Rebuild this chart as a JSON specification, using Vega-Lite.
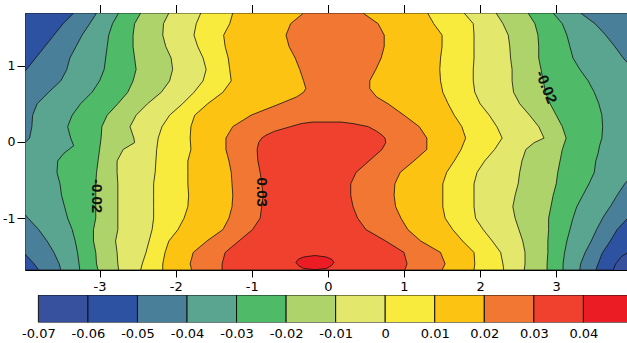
{
  "$schema": "https://vega.github.io/schema/vega-lite/v6.json",
  "padding": {"left": 2, "top": 4, "right": 0, "bottom": 0},
  "background": "white",
  "spacing": 1,
  "datasets": {
    "contours": [
      {"level": -0.06, "y": 1.69, "xl": -3.98, "xr": 3.98},
      {"level": -0.06, "y": -1.43, "xl": -3.98, "xr": 3.98},
      {"level": -0.06, "y": -1.5, "xl": -3.98, "xr": 3.86},
      {"level": -0.06, "y": -1.6, "xl": -3.98, "xr": 3.78},
      {"level": -0.06, "y": -1.68, "xl": -3.98, "xr": 3.75},

      {"level": -0.05, "y": 1.69, "xl": -3.34, "xr": 3.98},
      {"level": -0.05, "y": 1.55, "xl": -3.48, "xr": 3.98},
      {"level": -0.05, "y": 1.4, "xl": -3.6, "xr": 3.98},
      {"level": -0.05, "y": 1.25, "xl": -3.72, "xr": 3.98},
      {"level": -0.05, "y": 1.1, "xl": -3.84, "xr": 3.98},
      {"level": -0.05, "y": 0.95, "xl": -3.96, "xr": 3.98},
      {"level": -0.05, "y": 0.93, "xl": -3.98, "xr": 3.98},
      {"level": -0.05, "y": -0.97, "xl": -3.98, "xr": 3.98},
      {"level": -0.05, "y": -1.0, "xl": -3.98, "xr": 3.94},
      {"level": -0.05, "y": -1.15, "xl": -3.98, "xr": 3.8},
      {"level": -0.05, "y": -1.3, "xl": -3.98, "xr": 3.71},
      {"level": -0.05, "y": -1.45, "xl": -3.98, "xr": 3.61},
      {"level": -0.05, "y": -1.47, "xl": -3.98, "xr": 3.6},
      {"level": -0.05, "y": -1.6, "xl": -3.86, "xr": 3.55},
      {"level": -0.05, "y": -1.68, "xl": -3.8, "xr": 3.52},

      {"level": -0.04, "y": 1.69, "xl": -3.04, "xr": 3.32},
      {"level": -0.04, "y": 1.55, "xl": -3.13, "xr": 3.51},
      {"level": -0.04, "y": 1.4, "xl": -3.23, "xr": 3.65},
      {"level": -0.04, "y": 1.25, "xl": -3.31, "xr": 3.77},
      {"level": -0.04, "y": 1.1, "xl": -3.39, "xr": 3.88},
      {"level": -0.04, "y": 0.99, "xl": -3.42, "xr": 3.98},
      {"level": -0.04, "y": 0.95, "xl": -3.43, "xr": 3.98},
      {"level": -0.04, "y": 0.8, "xl": -3.51, "xr": 3.98},
      {"level": -0.04, "y": 0.65, "xl": -3.67, "xr": 3.98},
      {"level": -0.04, "y": 0.5, "xl": -3.82, "xr": 3.98},
      {"level": -0.04, "y": 0.35, "xl": -3.88, "xr": 3.98},
      {"level": -0.04, "y": 0.2, "xl": -3.89, "xr": 3.98},
      {"level": -0.04, "y": 0.05, "xl": -3.92, "xr": 3.98},
      {"level": -0.04, "y": -0.01, "xl": -3.98, "xr": 3.98},
      {"level": -0.04, "y": -0.46, "xl": -3.98, "xr": 3.98},
      {"level": -0.04, "y": -0.55, "xl": -3.98, "xr": 3.9},
      {"level": -0.04, "y": -0.7, "xl": -3.98, "xr": 3.8},
      {"level": -0.04, "y": -0.85, "xl": -3.98, "xr": 3.71},
      {"level": -0.04, "y": -0.95, "xl": -3.98, "xr": 3.64},
      {"level": -0.04, "y": -1.0, "xl": -3.94, "xr": 3.61},
      {"level": -0.04, "y": -1.15, "xl": -3.8, "xr": 3.53},
      {"level": -0.04, "y": -1.3, "xl": -3.69, "xr": 3.46},
      {"level": -0.04, "y": -1.45, "xl": -3.6, "xr": 3.38},
      {"level": -0.04, "y": -1.6, "xl": -3.53, "xr": 3.32},
      {"level": -0.04, "y": -1.68, "xl": -3.51, "xr": 3.31},

      {"level": -0.03, "y": 1.69, "xl": -2.75, "xr": 2.96},
      {"level": -0.03, "y": 1.55, "xl": -2.83, "xr": 3.08},
      {"level": -0.03, "y": 1.4, "xl": -2.88, "xr": 3.14},
      {"level": -0.03, "y": 1.25, "xl": -2.9, "xr": 3.18},
      {"level": -0.03, "y": 1.1, "xl": -2.92, "xr": 3.22},
      {"level": -0.03, "y": 0.95, "xl": -2.94, "xr": 3.31},
      {"level": -0.03, "y": 0.8, "xl": -3.0, "xr": 3.42},
      {"level": -0.03, "y": 0.65, "xl": -3.1, "xr": 3.5},
      {"level": -0.03, "y": 0.5, "xl": -3.25, "xr": 3.56},
      {"level": -0.03, "y": 0.35, "xl": -3.36, "xr": 3.6},
      {"level": -0.03, "y": 0.2, "xl": -3.42, "xr": 3.61},
      {"level": -0.03, "y": 0.05, "xl": -3.38, "xr": 3.6},
      {"level": -0.03, "y": -0.05, "xl": -3.34, "xr": 3.57},
      {"level": -0.03, "y": -0.15, "xl": -3.47, "xr": 3.55},
      {"level": -0.03, "y": -0.25, "xl": -3.55, "xr": 3.52},
      {"level": -0.03, "y": -0.4, "xl": -3.56, "xr": 3.5},
      {"level": -0.03, "y": -0.55, "xl": -3.52, "xr": 3.43},
      {"level": -0.03, "y": -0.7, "xl": -3.5, "xr": 3.35},
      {"level": -0.03, "y": -0.85, "xl": -3.46, "xr": 3.27},
      {"level": -0.03, "y": -1.0, "xl": -3.42, "xr": 3.22},
      {"level": -0.03, "y": -1.15, "xl": -3.36, "xr": 3.18},
      {"level": -0.03, "y": -1.3, "xl": -3.32, "xr": 3.14},
      {"level": -0.03, "y": -1.45, "xl": -3.29, "xr": 3.11},
      {"level": -0.03, "y": -1.6, "xl": -3.27, "xr": 3.09},
      {"level": -0.03, "y": -1.68, "xl": -3.26, "xr": 3.09},

      {"level": -0.02, "y": 1.69, "xl": -2.46, "xr": 2.63},
      {"level": -0.02, "y": 1.55, "xl": -2.54, "xr": 2.72},
      {"level": -0.02, "y": 1.4, "xl": -2.56, "xr": 2.76},
      {"level": -0.02, "y": 1.25, "xl": -2.56, "xr": 2.77},
      {"level": -0.02, "y": 1.1, "xl": -2.54, "xr": 2.77},
      {"level": -0.02, "y": 0.95, "xl": -2.52, "xr": 2.8},
      {"level": -0.02, "y": 0.8, "xl": -2.56, "xr": 2.83},
      {"level": -0.02, "y": 0.65, "xl": -2.63, "xr": 2.86},
      {"level": -0.02, "y": 0.5, "xl": -2.76, "xr": 2.92},
      {"level": -0.02, "y": 0.35, "xl": -2.9, "xr": 3.0},
      {"level": -0.02, "y": 0.2, "xl": -2.97, "xr": 3.08},
      {"level": -0.02, "y": 0.05, "xl": -2.98, "xr": 3.13},
      {"level": -0.02, "y": -0.1, "xl": -3.0, "xr": 3.08},
      {"level": -0.02, "y": -0.25, "xl": -3.02, "xr": 3.05},
      {"level": -0.02, "y": -0.4, "xl": -3.04, "xr": 3.02},
      {"level": -0.02, "y": -0.55, "xl": -3.05, "xr": 3.0},
      {"level": -0.02, "y": -0.7, "xl": -3.05, "xr": 2.96},
      {"level": -0.02, "y": -0.85, "xl": -3.05, "xr": 2.93},
      {"level": -0.02, "y": -1.0, "xl": -3.05, "xr": 2.9},
      {"level": -0.02, "y": -1.15, "xl": -3.08, "xr": 2.9},
      {"level": -0.02, "y": -1.3, "xl": -3.08, "xr": 2.89},
      {"level": -0.02, "y": -1.45, "xl": -3.05, "xr": 2.89},
      {"level": -0.02, "y": -1.6, "xl": -3.04, "xr": 2.88},
      {"level": -0.02, "y": -1.68, "xl": -3.02, "xr": 2.88},

      {"level": -0.01, "y": 1.69, "xl": -2.09, "xr": 2.21},
      {"level": -0.01, "y": 1.55, "xl": -2.16, "xr": 2.3},
      {"level": -0.01, "y": 1.4, "xl": -2.17, "xr": 2.37},
      {"level": -0.01, "y": 1.25, "xl": -2.13, "xr": 2.39},
      {"level": -0.01, "y": 1.1, "xl": -2.06, "xr": 2.4},
      {"level": -0.01, "y": 0.95, "xl": -2.04, "xr": 2.42},
      {"level": -0.01, "y": 0.8, "xl": -2.08, "xr": 2.42},
      {"level": -0.01, "y": 0.65, "xl": -2.19, "xr": 2.44},
      {"level": -0.01, "y": 0.5, "xl": -2.37, "xr": 2.52},
      {"level": -0.01, "y": 0.35, "xl": -2.52, "xr": 2.65},
      {"level": -0.01, "y": 0.2, "xl": -2.6, "xr": 2.77},
      {"level": -0.01, "y": 0.05, "xl": -2.55, "xr": 2.84},
      {"level": -0.01, "y": -0.01, "xl": -2.54, "xr": 2.71},
      {"level": -0.01, "y": -0.1, "xl": -2.69, "xr": 2.6},
      {"level": -0.01, "y": -0.25, "xl": -2.77, "xr": 2.55},
      {"level": -0.01, "y": -0.4, "xl": -2.77, "xr": 2.52},
      {"level": -0.01, "y": -0.55, "xl": -2.76, "xr": 2.5},
      {"level": -0.01, "y": -0.7, "xl": -2.76, "xr": 2.46},
      {"level": -0.01, "y": -0.85, "xl": -2.76, "xr": 2.43},
      {"level": -0.01, "y": -1.0, "xl": -2.76, "xr": 2.46},
      {"level": -0.01, "y": -1.15, "xl": -2.76, "xr": 2.51},
      {"level": -0.01, "y": -1.3, "xl": -2.79, "xr": 2.56},
      {"level": -0.01, "y": -1.45, "xl": -2.77, "xr": 2.59},
      {"level": -0.01, "y": -1.6, "xl": -2.76, "xr": 2.59},
      {"level": -0.01, "y": -1.68, "xl": -2.75, "xr": 2.58},

      {"level": 0, "y": 1.69, "xl": -1.67, "xr": 1.79},
      {"level": 0, "y": 1.55, "xl": -1.73, "xr": 1.91},
      {"level": 0, "y": 1.4, "xl": -1.76, "xr": 1.92},
      {"level": 0, "y": 1.25, "xl": -1.71, "xr": 1.92},
      {"level": 0, "y": 1.1, "xl": -1.64, "xr": 1.92},
      {"level": 0, "y": 0.95, "xl": -1.6, "xr": 1.91},
      {"level": 0, "y": 0.8, "xl": -1.64, "xr": 1.91},
      {"level": 0, "y": 0.65, "xl": -1.76, "xr": 1.93},
      {"level": 0, "y": 0.5, "xl": -1.91, "xr": 2.0},
      {"level": 0, "y": 0.35, "xl": -2.08, "xr": 2.12},
      {"level": 0, "y": 0.2, "xl": -2.18, "xr": 2.22},
      {"level": 0, "y": 0.05, "xl": -2.23, "xr": 2.29},
      {"level": 0, "y": -0.1, "xl": -2.25, "xr": 2.19},
      {"level": 0, "y": -0.25, "xl": -2.26, "xr": 2.06},
      {"level": 0, "y": -0.4, "xl": -2.27, "xr": 1.96},
      {"level": 0, "y": -0.55, "xl": -2.29, "xr": 1.92},
      {"level": 0, "y": -0.7, "xl": -2.29, "xr": 1.92},
      {"level": 0, "y": -0.85, "xl": -2.29, "xr": 1.92},
      {"level": 0, "y": -1.0, "xl": -2.29, "xr": 1.94},
      {"level": 0, "y": -1.15, "xl": -2.31, "xr": 2.04},
      {"level": 0, "y": -1.3, "xl": -2.35, "xr": 2.16},
      {"level": 0, "y": -1.45, "xl": -2.39, "xr": 2.27},
      {"level": 0, "y": -1.6, "xl": -2.44, "xr": 2.3},
      {"level": 0, "y": -1.68, "xl": -2.46, "xr": 2.31},

      {"level": 0.01, "y": 1.69, "xl": -1.25, "xr": 1.31},
      {"level": 0.01, "y": 1.55, "xl": -1.29, "xr": 1.39},
      {"level": 0.01, "y": 1.4, "xl": -1.37, "xr": 1.5},
      {"level": 0.01, "y": 1.25, "xl": -1.35, "xr": 1.5},
      {"level": 0.01, "y": 1.1, "xl": -1.31, "xr": 1.48},
      {"level": 0.01, "y": 0.95, "xl": -1.29, "xr": 1.47},
      {"level": 0.01, "y": 0.8, "xl": -1.27, "xr": 1.48},
      {"level": 0.01, "y": 0.65, "xl": -1.38, "xr": 1.51},
      {"level": 0.01, "y": 0.5, "xl": -1.58, "xr": 1.58},
      {"level": 0.01, "y": 0.35, "xl": -1.75, "xr": 1.66},
      {"level": 0.01, "y": 0.2, "xl": -1.8, "xr": 1.76},
      {"level": 0.01, "y": 0.05, "xl": -1.81, "xr": 1.81},
      {"level": 0.01, "y": -0.1, "xl": -1.8, "xr": 1.75},
      {"level": 0.01, "y": -0.25, "xl": -1.84, "xr": 1.66},
      {"level": 0.01, "y": -0.4, "xl": -1.84, "xr": 1.56},
      {"level": 0.01, "y": -0.55, "xl": -1.84, "xr": 1.51},
      {"level": 0.01, "y": -0.7, "xl": -1.83, "xr": 1.51},
      {"level": 0.01, "y": -0.85, "xl": -1.84, "xr": 1.51},
      {"level": 0.01, "y": -1.0, "xl": -1.89, "xr": 1.54},
      {"level": 0.01, "y": -1.15, "xl": -1.97, "xr": 1.64},
      {"level": 0.01, "y": -1.3, "xl": -2.09, "xr": 1.77},
      {"level": 0.01, "y": -1.45, "xl": -2.14, "xr": 1.92},
      {"level": 0.01, "y": -1.6, "xl": -2.17, "xr": 1.93},
      {"level": 0.01, "y": -1.68, "xl": -2.17, "xr": 1.92},

      {"level": 0.02, "y": 1.69, "xl": -0.32, "xr": 0.46},
      {"level": 0.02, "y": 1.55, "xl": -0.49, "xr": 0.66},
      {"level": 0.02, "y": 1.4, "xl": -0.55, "xr": 0.74},
      {"level": 0.02, "y": 1.25, "xl": -0.51, "xr": 0.74},
      {"level": 0.02, "y": 1.1, "xl": -0.43, "xr": 0.7},
      {"level": 0.02, "y": 0.95, "xl": -0.37, "xr": 0.63},
      {"level": 0.02, "y": 0.8, "xl": -0.32, "xr": 0.55},
      {"level": 0.02, "y": 0.7, "xl": -0.29, "xr": 0.55},
      {"level": 0.02, "y": 0.65, "xl": -0.32, "xr": 0.59},
      {"level": 0.02, "y": 0.59, "xl": -0.41, "xr": 0.64},
      {"level": 0.02, "y": 0.5, "xl": -0.63, "xr": 0.79},
      {"level": 0.02, "y": 0.35, "xl": -1.01, "xr": 1.0},
      {"level": 0.02, "y": 0.2, "xl": -1.25, "xr": 1.2},
      {"level": 0.02, "y": 0.05, "xl": -1.34, "xr": 1.3},
      {"level": 0.02, "y": -0.1, "xl": -1.34, "xr": 1.3},
      {"level": 0.02, "y": -0.25, "xl": -1.3, "xr": 1.13},
      {"level": 0.02, "y": -0.4, "xl": -1.27, "xr": 0.95},
      {"level": 0.02, "y": -0.55, "xl": -1.26, "xr": 0.88},
      {"level": 0.02, "y": -0.7, "xl": -1.25, "xr": 0.87},
      {"level": 0.02, "y": -0.85, "xl": -1.26, "xr": 0.89},
      {"level": 0.02, "y": -1.0, "xl": -1.3, "xr": 0.96},
      {"level": 0.02, "y": -1.15, "xl": -1.38, "xr": 1.05},
      {"level": 0.02, "y": -1.3, "xl": -1.59, "xr": 1.22},
      {"level": 0.02, "y": -1.45, "xl": -1.77, "xr": 1.48},
      {"level": 0.02, "y": -1.6, "xl": -1.81, "xr": 1.54},
      {"level": 0.02, "y": -1.68, "xl": -1.79, "xr": 1.5},

      {"level": 0.03, "y": 0.26, "xl": -0.2, "xr": 0.17},
      {"level": 0.03, "y": 0.24, "xl": -0.35, "xr": 0.33},
      {"level": 0.03, "y": 0.2, "xl": -0.49, "xr": 0.53},
      {"level": 0.03, "y": 0.14, "xl": -0.7, "xr": 0.64},
      {"level": 0.03, "y": 0.09, "xl": -0.81, "xr": 0.71},
      {"level": 0.03, "y": 0.05, "xl": -0.87, "xr": 0.75},
      {"level": 0.03, "y": -0.01, "xl": -0.91, "xr": 0.76},
      {"level": 0.03, "y": -0.1, "xl": -0.93, "xr": 0.71},
      {"level": 0.03, "y": -0.25, "xl": -0.92, "xr": 0.54},
      {"level": 0.03, "y": -0.4, "xl": -0.89, "xr": 0.37},
      {"level": 0.03, "y": -0.55, "xl": -0.87, "xr": 0.3},
      {"level": 0.03, "y": -0.7, "xl": -0.85, "xr": 0.3},
      {"level": 0.03, "y": -0.85, "xl": -0.87, "xr": 0.33},
      {"level": 0.03, "y": -1.0, "xl": -0.89, "xr": 0.39},
      {"level": 0.03, "y": -1.15, "xl": -0.99, "xr": 0.5},
      {"level": 0.03, "y": -1.3, "xl": -1.17, "xr": 0.76},
      {"level": 0.03, "y": -1.45, "xl": -1.35, "xr": 1.0},
      {"level": 0.03, "y": -1.6, "xl": -1.39, "xr": 1.04},
      {"level": 0.03, "y": -1.68, "xl": -1.39, "xr": 1.01},

      {"level": 0.04, "y": -1.49, "xl": -0.17, "xr": -0.17},
      {"level": 0.04, "y": -1.51, "xl": -0.32, "xr": -0.02},
      {"level": 0.04, "y": -1.54, "xl": -0.39, "xr": 0.05},
      {"level": 0.04, "y": -1.58, "xl": -0.42, "xr": 0.08},
      {"level": 0.04, "y": -1.62, "xl": -0.39, "xr": 0.05},
      {"level": 0.04, "y": -1.66, "xl": -0.32, "xr": -0.02},
      {"level": 0.04, "y": -1.675, "xl": -0.17, "xr": -0.17}
    ],
    "bar": [
      {"level": -0.07, "hi": -0.06},
      {"level": -0.06, "hi": -0.05},
      {"level": -0.05, "hi": -0.04},
      {"level": -0.04, "hi": -0.03},
      {"level": -0.03, "hi": -0.02},
      {"level": -0.02, "hi": -0.01},
      {"level": -0.01, "hi": 0},
      {"level": 0, "hi": 0.01},
      {"level": 0.01, "hi": 0.02},
      {"level": 0.02, "hi": 0.03},
      {"level": 0.03, "hi": 0.04},
      {"level": 0.04, "hi": 0.05}
    ]
  },
  "vconcat": [
    {
      "width": 602,
      "height": 257,
      "view": {"fill": "#38519F", "stroke": null},
      "layer": [
        {
          "data": {"name": "contours"},
          "mark": {"type": "area", "orient": "horizontal", "stroke": "#111111", "strokeWidth": 0.8, "clip": true, "interpolate": "linear"},
          "encoding": {
            "y": {
              "field": "y", "type": "quantitative",
              "scale": {"domain": [-1.68, 1.69], "nice": false, "zero": false},
              "axis": {"orient": "left", "values": [-1, 0, 1], "title": null, "grid": false, "tickSize": 8, "labelPadding": 2, "domain": true,
                "labelExpr": "datum.value < 0 ? '-' + format(-datum.value, 'd') : format(datum.value, 'd')"}
            },
            "x": {
              "field": "xl", "type": "quantitative", "stack": null,
              "scale": {"domain": [-3.98, 3.93], "nice": false, "zero": false},
              "axis": {"orient": "bottom", "values": [-3, -2, -1, 0, 1, 2, 3], "title": null, "grid": false, "tickSize": 7, "labelPadding": 3.5, "labelFontSize": 13, "domain": true, "labelFlush": false,
                "labelExpr": "datum.value < 0 ? '-' + format(-datum.value, 'd') : format(datum.value, 'd')"}
            },
            "x2": {"field": "xr"},
            "color": {
              "field": "level", "type": "ordinal", "legend": null,
              "scale": {
                "domain": [-0.07, -0.06, -0.05, -0.04, -0.03, -0.02, -0.01, 0, 0.01, 0.02, 0.03, 0.04],
                "range": ["#38519F", "#2E52A2", "#4A7F9A", "#5AA590", "#4FBA68", "#AED36A", "#E3E86C", "#F9EB3D", "#FDC313", "#F27733", "#EF412D", "#EC1C24"]
              }
            }
          }
        },
        {
          "data": {"values": [
            {"label": "-0.02", "x": -3.03, "y": -0.71},
            {"label": "0.03", "x": -0.87, "y": -0.66}
          ]},
          "mark": {"type": "text", "angle": 90, "font": "Liberation Sans", "fontWeight": "bold", "fontSize": 15, "color": "#111111", "align": "center", "baseline": "middle"},
          "encoding": {
            "x": {"field": "x", "type": "quantitative",
              "axis": {"orient": "top", "values": [-3, -2, -1, 0, 1, 2, 3], "labels": false, "title": null, "grid": false, "tickSize": 8.5, "domain": true}},
            "y": {"field": "y", "type": "quantitative", "axis": null},
            "text": {"field": "label"}
          }
        },
        {
          "data": {"values": [
            {"label": "-0.02", "x": 2.87, "y": 0.72}
          ]},
          "mark": {"type": "text", "angle": 68, "font": "Liberation Sans", "fontWeight": "bold", "fontSize": 15, "color": "#111111", "align": "center", "baseline": "middle"},
          "encoding": {
            "x": {"field": "x", "type": "quantitative", "axis": null},
            "y": {"field": "y", "type": "quantitative", "axis": null},
            "text": {"field": "label"}
          }
        }
      ],
      "resolve": {"axis": {"x": "independent", "y": "independent"}}
    },
    {
      "width": 602,
      "height": 27.5,
      "view": {"stroke": null},
      "data": {"name": "bar"},
      "mark": {"type": "rect", "stroke": "#111111", "strokeWidth": 1, "clip": true},
      "encoding": {
        "x": {
          "field": "level", "type": "quantitative",
          "scale": {"domain": [-0.0727, 0.0488], "nice": false, "zero": false},
          "axis": {"orient": "bottom", "values": [-0.07, -0.06, -0.05, -0.04, -0.03, -0.02, -0.01, 0, 0.01, 0.02, 0.03, 0.04], "title": null, "grid": false, "ticks": false, "tickSize": 0, "domain": false, "labelPadding": 5, "labelFontSize": 13, "labelOverlap": false, "labelFlush": false,
            "labelExpr": "datum.value < 0 ? '-' + format(-datum.value, '.2~f') : format(datum.value, '.2~f')"}
        },
        "x2": {"field": "hi"},
        "color": {
          "field": "level", "type": "ordinal", "legend": null,
          "scale": {
            "domain": [-0.07, -0.06, -0.05, -0.04, -0.03, -0.02, -0.01, 0, 0.01, 0.02, 0.03, 0.04],
            "range": ["#38519F", "#2E52A2", "#4A7F9A", "#5AA590", "#4FBA68", "#AED36A", "#E3E86C", "#F9EB3D", "#FDC313", "#F27733", "#EF412D", "#EC1C24"]
          }
        }
      }
    }
  ],
  "config": {
    "view": {"stroke": null},
    "axis": {"labelFont": "DejaVu Sans", "labelFontSize": 12.5, "labelColor": "black", "tickColor": "black", "domainColor": "black", "tickWidth": 1, "domainWidth": 1}
  }
}
